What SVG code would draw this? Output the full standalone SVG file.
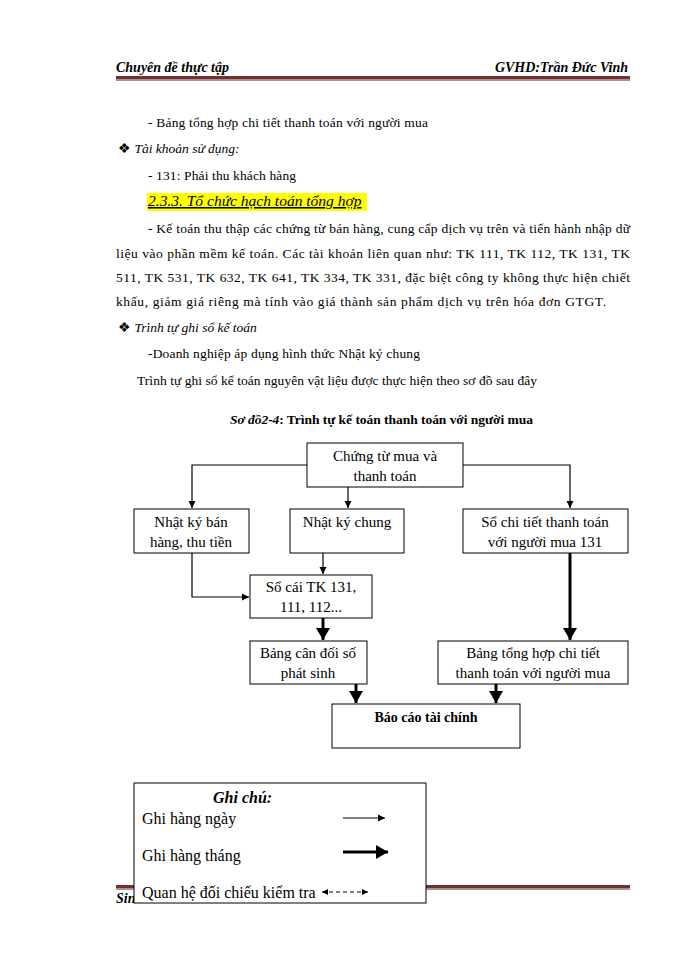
<svg xmlns="http://www.w3.org/2000/svg" width="700" height="960" viewBox="0 0 700 960">
<style>
text{font-family:"Liberation Serif","Times New Roman",serif;fill:#000}
.b{font-size:13.5px}
.bx{font-size:15px}
.lg{font-size:16px}
.n{fill:#fff;stroke:#000;stroke-width:1}
.thin{stroke:#000;stroke-width:1.2;fill:none}
.thick{stroke:#000;stroke-width:3;fill:none}
</style>
<defs>
<marker id="a1" markerWidth="8" markerHeight="8" refX="7" refY="4" orient="auto" markerUnits="userSpaceOnUse"><path d="M0,0.5 L7,4 L0,7.5 Z" fill="#000"/></marker>
<marker id="a2" markerWidth="14" markerHeight="14" refX="12" refY="7" orient="auto" markerUnits="userSpaceOnUse"><path d="M0,0 L12,7 L0,14 Z" fill="#000"/></marker>
<marker id="a3" markerWidth="8" markerHeight="8" refX="6" refY="3" orient="auto-start-reverse" markerUnits="userSpaceOnUse"><path d="M0,0 L6,3 L0,6 Z" fill="#000"/></marker>
</defs>
<rect width="700" height="960" fill="#fff"/>
<g id="header">
<text x="116" y="72" style="font-size:14px;font-weight:bold;font-style:italic">Chuyên đề thực tập</text>
<text x="628" y="72" text-anchor="end" style="font-size:14px;font-weight:bold;font-style:italic">GVHD:Trần Đức Vinh</text>
<rect x="116" y="76" width="514" height="3" fill="#7a2c2c"/>
<rect x="116" y="79.5" width="514" height="1" fill="#333"/>
</g>
<g id="body">
<text class="b" x="148" y="127" textLength="280" lengthAdjust="spacing">- Bảng tổng hợp chi tiết thanh toán với người mua</text>
<text class="b" x="118" y="153">❖ <tspan style="font-style:italic">Tài khoản sử dụng:</tspan></text>
<text class="b" x="148" y="180" textLength="148" lengthAdjust="spacing">- 131: Phải thu khách hàng</text>
<rect x="147" y="193" width="220" height="18" fill="#ffff00"/>
<text x="148" y="206" style="font-size:15.5px;font-style:italic;text-decoration:underline">2.3.3. Tổ chức hạch toán tổng hợp</text>
<text class="b" x="148" y="233" textLength="482" lengthAdjust="spacing">- Kế toán thu thập các chứng từ bán hàng, cung cấp dịch vụ trên và tiến hành nhập dữ</text>
<text class="b" x="116" y="258" textLength="514" lengthAdjust="spacing">liệu vào phần mềm kế toán. Các tài khoản liên quan như: TK 111, TK 112, TK 131, TK</text>
<text class="b" x="116" y="282" textLength="514" lengthAdjust="spacing">511, TK 531, TK 632, TK 641, TK 334, TK 331, đặc biệt công ty không thực hiện chiết</text>
<text class="b" x="116" y="306" textLength="490" lengthAdjust="spacing">khấu, giảm giá riêng mà tính vào giá thành sản phẩm dịch vụ trên hóa đơn GTGT.</text>
<text class="b" x="118" y="332">❖ <tspan style="font-style:italic">Trình tự ghi sổ kế toán</tspan></text>
<text class="b" x="148" y="358" textLength="272" lengthAdjust="spacing">-Doanh nghiệp áp dụng hình thức Nhật ký chung</text>
<text class="b" x="137" y="385" textLength="400" lengthAdjust="spacing">Trình tự ghi sổ kế toán nguyên vật liệu được thực hiện theo sơ đồ sau đây</text>
<text class="b" x="230" y="424" textLength="303" lengthAdjust="spacing" style="font-weight:bold"><tspan style="font-style:italic">Sơ đồ2-4</tspan>: Trình tự kế toán thanh toán với người mua</text>
</g>
<g id="connectors">
<path class="thin" d="M307,465 H192 V508" marker-end="url(#a1)"/>
<path class="thin" d="M348,487 V508" marker-end="url(#a1)"/>
<path class="thin" d="M463,465 H570 V508" marker-end="url(#a1)"/>
<path class="thin" d="M192,553 V597 H249" marker-end="url(#a1)"/>
<path class="thin" d="M323,553 V574" marker-end="url(#a1)"/>
<path class="thick" d="M323,618 V640" marker-end="url(#a2)"/>
<path class="thick" d="M570,553 V640" marker-end="url(#a2)"/>
<path class="thick" d="M356,684 V703" marker-end="url(#a2)"/>
<path class="thick" d="M496,684 V703" marker-end="url(#a2)"/>
</g>
<g id="n-chungtu"><rect class="n" x="307" y="443" width="156" height="44"/>
<text class="bx" x="385" y="461" text-anchor="middle">Chứng từ mua và</text>
<text class="bx" x="385" y="481" text-anchor="middle">thanh toán</text></g>
<g id="n-nkban"><rect class="n" x="134" y="509" width="115" height="44"/>
<text class="bx" x="191" y="527" text-anchor="middle">Nhật ký bán</text>
<text class="bx" x="191" y="547" text-anchor="middle">hàng, thu tiền</text></g>
<g id="n-nkchung"><rect class="n" x="290" y="509" width="114" height="44"/>
<text class="bx" x="347" y="527" text-anchor="middle">Nhật ký chung</text></g>
<g id="n-sochitiet"><rect class="n" x="463" y="509" width="165" height="44"/>
<text class="bx" x="545" y="527" text-anchor="middle">Sổ chi tiết thanh toán</text>
<text class="bx" x="545" y="547" text-anchor="middle">với người mua 131</text></g>
<g id="n-socai"><rect class="n" x="250" y="575" width="122" height="43"/>
<text class="bx" x="311" y="592" text-anchor="middle">Sổ cái TK 131,</text>
<text class="bx" x="311" y="612" text-anchor="middle">111, 112...</text></g>
<g id="n-bangcandoi"><rect class="n" x="250" y="641" width="117" height="43"/>
<text class="bx" x="308" y="658" text-anchor="middle">Bảng cân đối số</text>
<text class="bx" x="308" y="678" text-anchor="middle">phát sinh</text></g>
<g id="n-bangtonghop"><rect class="n" x="438" y="641" width="190" height="43"/>
<text class="bx" x="533" y="658" text-anchor="middle">Bảng tổng hợp chi tiết</text>
<text class="bx" x="533" y="678" text-anchor="middle">thanh toán với người mua</text></g>
<g id="n-baocao"><rect class="n" x="332" y="704" width="188" height="44"/>
<text class="bx" x="426" y="722" text-anchor="middle" style="font-weight:bold;font-size:14px">Báo cáo tài chính</text></g>
<g id="footer">
<rect x="116" y="885" width="514" height="3" fill="#7a2c2c"/>
<rect x="116" y="888.5" width="514" height="1" fill="#333"/>
<text x="116" y="903" style="font-size:14px;font-weight:bold;font-style:italic">Sin</text>
</g>
<g id="legend">
<rect x="134" y="783" width="292" height="120" fill="#fff" stroke="#000" stroke-width="1"/>
<text x="213" y="803" style="font-size:16px;font-weight:bold;font-style:italic">Ghi chú:</text>
<text class="lg" x="142" y="824">Ghi hàng ngày</text>
<path class="thin" d="M343,818 H385" marker-end="url(#a1)"/>
<text class="lg" x="142" y="861">Ghi hàng tháng</text>
<path class="thick" d="M343,852 H388" marker-end="url(#a2)"/>
<text class="lg" x="142" y="898">Quan hệ đối chiếu kiểm tra</text>
<path d="M322,892 H368" stroke="#000" stroke-width="1" stroke-dasharray="4,3" fill="none" marker-start="url(#a3)" marker-end="url(#a3)"/>
</g>
</svg>
